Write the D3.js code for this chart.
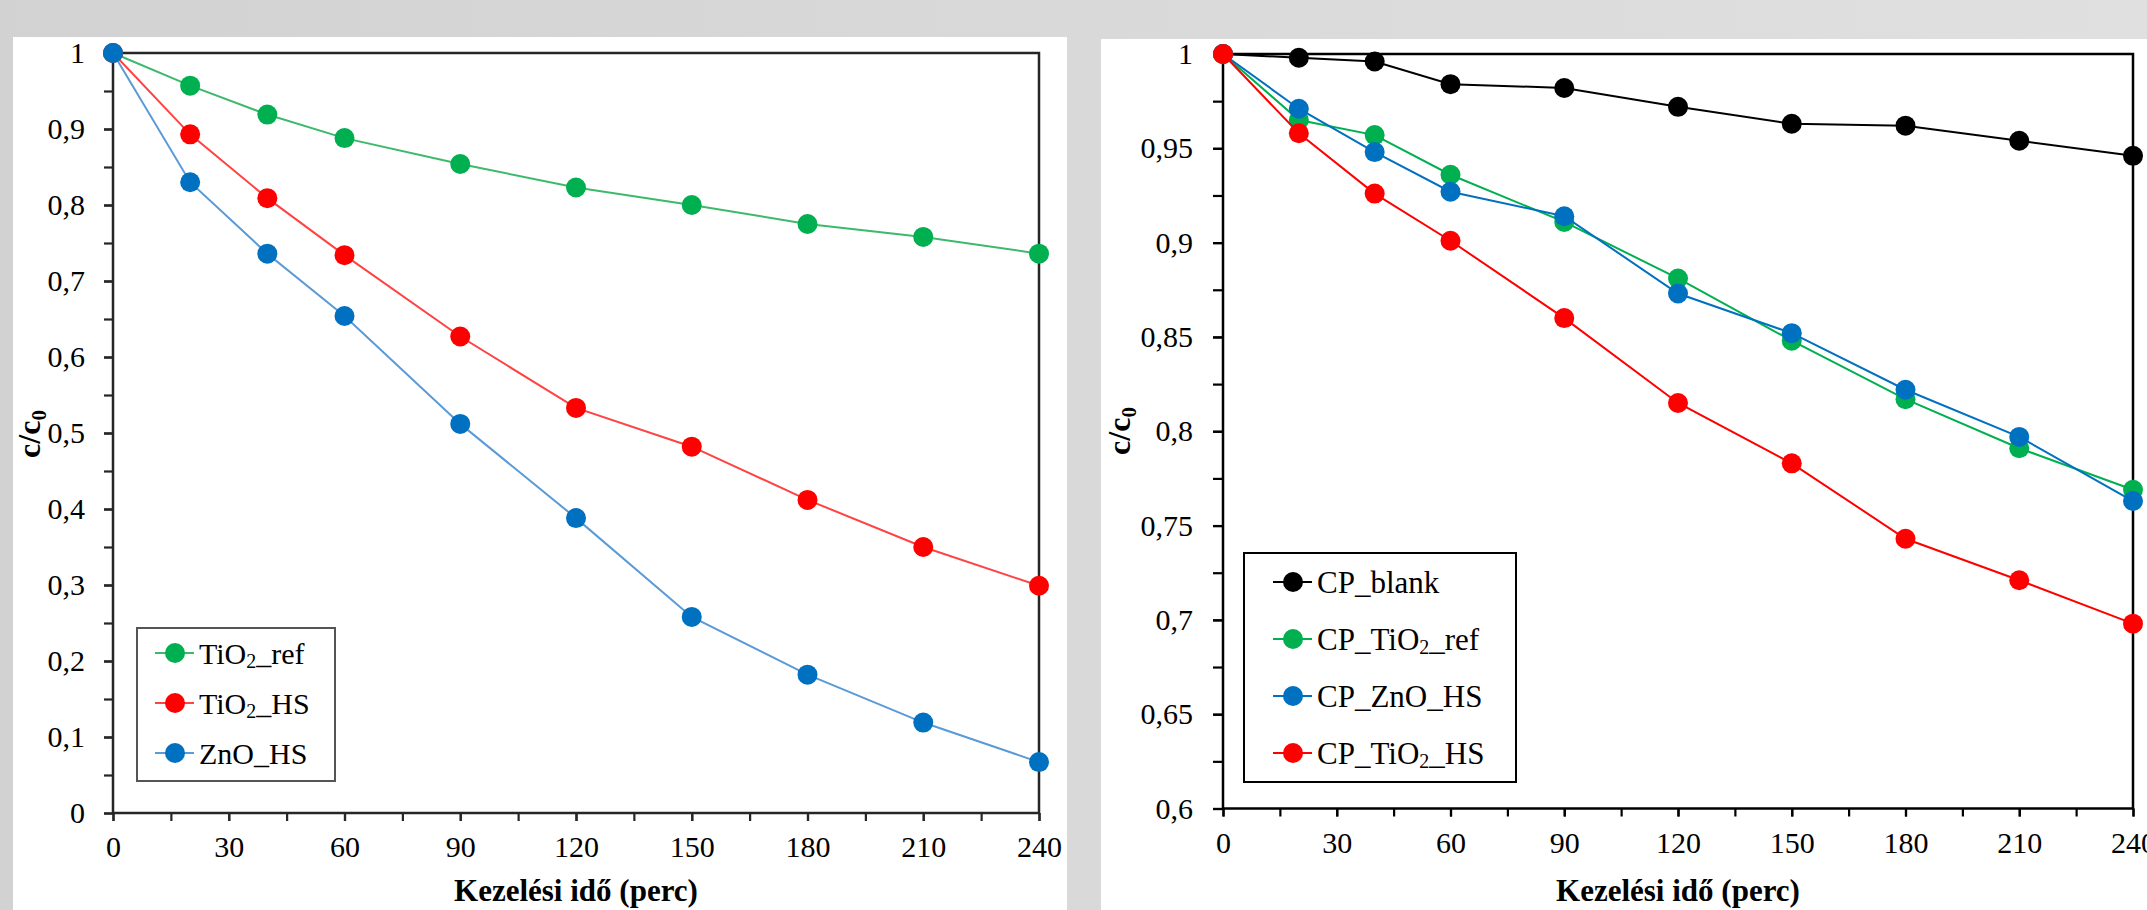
<!DOCTYPE html>
<html>
<head>
<meta charset="utf-8">
<script src="https://cdn.jsdelivr.net/npm/d3@7"></script>
<style>
  html, body { margin: 0; padding: 0; overflow: hidden; }
  svg { display: block; }
  text { font-family: "Liberation Serif", "Times New Roman", serif; fill: #000; }
</style>
</head>
<body>
<svg id="chart" width="2147" height="910"></svg>
<script>
// kezelési idő (perc)
const times = [0, 20, 40, 60, 90, 120, 150, 180, 210, 240];

// bal oldali diagram
const tio2Ref = [1, 0.957, 0.919, 0.888, 0.854, 0.823, 0.800, 0.775, 0.758, 0.736];
const tio2HS  = [1, 0.893, 0.809, 0.734, 0.627, 0.533, 0.482, 0.412, 0.350, 0.299];
const znoHS   = [1, 0.830, 0.736, 0.654, 0.512, 0.388, 0.258, 0.182, 0.119, 0.067];

// jobb oldali diagram
const cpBlank   = [1, 0.998, 0.996, 0.984, 0.982, 0.972, 0.963, 0.962, 0.954, 0.946];
const cpTio2Ref = [1, 0.965, 0.957, 0.936, 0.911, 0.881, 0.848, 0.817, 0.791, 0.769];
const cpZnoHS   = [1, 0.971, 0.948, 0.927, 0.914, 0.873, 0.852, 0.822, 0.797, 0.763];
const cpTio2HS  = [1, 0.958, 0.926, 0.901, 0.860, 0.815, 0.783, 0.743, 0.721, 0.698];

const xTicks = [0, 30, 60, 90, 120, 150, 180, 210, 240];
const xMinorTicks = d3.range(0, 241, 15);
const leftYTicks = d3.range(0, 1.0001, 0.1);
const leftYMinor = d3.range(0, 1.0001, 0.05);
const rightYTicks = d3.range(0.6, 1.0001, 0.05);
const rightYMinor = d3.range(0.6, 1.0001, 0.025);

const svg = d3.select('#chart');

// szürke háttér
const grad = svg.append('defs').append('linearGradient')
  .attr('id', 'bg').attr('x1', 0).attr('x2', 1).attr('y1', 0).attr('y2', 0);
grad.append('stop').attr('offset', '0%').attr('stop-color', '#d2d2d2');
grad.append('stop').attr('offset', '100%').attr('stop-color', '#e0e0e0');
svg.append('rect').attr('width', 2147).attr('height', 910).attr('fill', 'url(#bg)');

// fehér panelek
svg.append('rect').attr('x', 13).attr('y', 37).attr('width', 1054).attr('height', 880).attr('fill', '#fff');
svg.append('rect').attr('x', 1101).attr('y', 39).attr('width', 1050).attr('height', 880).attr('fill', '#fff');

const fmt = d => String(+d.toFixed(3)).replace('.', ',');

function addLabel(sel, label, subSize) {
  const parts = label.split('₂');
  parts.forEach((p, i) => {
    if (i > 0) {
      sel.append('tspan').attr('font-size', subSize).attr('dy', 4).text('2');
      sel.append('tspan').attr('dy', -4).text(p);
    } else {
      sel.append('tspan').text(p);
    }
  });
}

function drawChart(cfg) {
  const g = svg.append('g');
  const x = d3.scaleLinear().domain([0, 240]).range(cfg.xRange);
  const y = d3.scaleLinear().domain(cfg.yDomain).range(cfg.yRange);

  // keret
  g.append('rect')
    .attr('x', x(0)).attr('y', y(cfg.yDomain[1]))
    .attr('width', x(240) - x(0)).attr('height', y(cfg.yDomain[0]) - y(cfg.yDomain[1]))
    .attr('fill', 'none').attr('stroke', cfg.axisColor).attr('stroke-width', 2.5);

  // y tengely
  const yMinorAxis = g.append('g').attr('transform', `translate(${x(0)},0)`)
    .call(d3.axisLeft(y).tickValues(cfg.yMinor).tickSize(cfg.tickLen).tickFormat(''));
  const yAxis = g.append('g').attr('transform', `translate(${x(0)},0)`)
    .call(d3.axisLeft(y).tickValues(cfg.yTicks).tickSize(cfg.tickLen).tickPadding(cfg.yPad).tickFormat(fmt));

  // x tengely
  const xMinorAxis = g.append('g').attr('transform', `translate(0,${y(cfg.yDomain[0])})`)
    .call(d3.axisBottom(x).tickValues(xMinorTicks).tickSize(8).tickFormat(''));
  const xAxis = g.append('g').attr('transform', `translate(0,${y(cfg.yDomain[0])})`)
    .call(d3.axisBottom(x).tickValues(xTicks).tickSize(8).tickPadding(15).tickFormat(d3.format('d')));

  [yMinorAxis, yAxis, xMinorAxis, xAxis].forEach(a => {
    a.select('.domain').remove();
    a.selectAll('line').attr('stroke', cfg.axisColor).attr('stroke-width', 2.2);
    a.selectAll('text').attr('font-family', '"Liberation Serif", serif')
      .attr('font-size', 30).attr('fill', '#000');
  });

  // adatsorok
  const line = d3.line().x((d, i) => x(times[i])).y(d => y(d));
  cfg.series.forEach(s => {
    g.append('path').datum(s.values)
      .attr('d', line).attr('fill', 'none')
      .attr('stroke', s.lineColor).attr('stroke-width', 2);
    g.append('g').selectAll('circle').data(s.values).join('circle')
      .attr('cx', (d, i) => x(times[i])).attr('cy', d => y(d))
      .attr('r', 10).attr('fill', s.color);
  });

  // tengelyfeliratok
  g.append('text')
    .attr('x', (cfg.xRange[0] + cfg.xRange[1]) / 2).attr('y', 901)
    .attr('text-anchor', 'middle').attr('font-weight', 'bold').attr('font-size', 31)
    .text('Kezelési idő (perc)');

  const yt = g.append('text')
    .attr('transform', `translate(${cfg.yTitleX},${cfg.yTitleY}) rotate(-90)`)
    .attr('text-anchor', 'middle').attr('font-weight', 'bold').attr('font-size', 32);
  yt.append('tspan').text('c/c');
  yt.append('tspan').attr('font-size', 21).attr('dy', 6).text('0');

  // jelmagyarázat
  const lg = cfg.legend;
  g.append('rect')
    .attr('x', lg.x).attr('y', lg.y).attr('width', lg.w).attr('height', lg.h)
    .attr('fill', '#fff').attr('stroke', cfg.legendStroke).attr('stroke-width', 2);
  cfg.series.forEach((s, i) => {
    const cy = lg.y + lg.first + i * lg.step;
    const row = g.append('g').attr('transform', `translate(${lg.x + lg.mark},${cy})`);
    row.append('line').attr('x1', -20).attr('x2', 19)
      .attr('stroke', s.lineColor).attr('stroke-width', 2);
    row.append('circle').attr('r', 10).attr('fill', s.color);
    const t = row.append('text').attr('x', 24).attr('dy', '0.35em')
      .attr('font-size', lg.fontSize);
    addLabel(t, s.name, 20);
  });
}

drawChart({
  xRange: [113, 1039],
  yDomain: [0, 1],
  yRange: [813, 53],
  yTicks: leftYTicks,
  yMinor: leftYMinor,
  tickLen: 9,
  yPad: 19,
  axisColor: '#262626',
  legendStroke: '#555',
  yTitleX: 40,
  yTitleY: 434,
  series: [
    { name: 'TiO₂_ref', values: tio2Ref, color: '#00b050', lineColor: '#3cba6a' },
    { name: 'TiO₂_HS', values: tio2HS, color: '#ff0000', lineColor: '#ff4242' },
    { name: 'ZnO_HS', values: znoHS, color: '#0070c0', lineColor: '#5a9ad6' }
  ],
  legend: { x: 137, y: 628, w: 198, h: 153, first: 25, step: 50, mark: 38, fontSize: 30 }
});

drawChart({
  xRange: [1223, 2133],
  yDomain: [0.6, 1],
  yRange: [808.5, 54],
  yTicks: rightYTicks,
  yMinor: rightYMinor,
  tickLen: 10,
  yPad: 20,
  axisColor: '#000',
  legendStroke: '#000',
  yTitleX: 1130,
  yTitleY: 431,
  series: [
    { name: 'CP_blank', values: cpBlank, color: '#000000', lineColor: '#000000' },
    { name: 'CP_TiO₂_ref', values: cpTio2Ref, color: '#00b050', lineColor: '#00b050' },
    { name: 'CP_ZnO_HS', values: cpZnoHS, color: '#0070c0', lineColor: '#0070c0' },
    { name: 'CP_TiO₂_HS', values: cpTio2HS, color: '#ff0000', lineColor: '#ff0000' }
  ],
  legend: { x: 1244, y: 553, w: 272, h: 229, first: 29, step: 57, mark: 49, fontSize: 31 }
});
</script>
</body>
</html>
